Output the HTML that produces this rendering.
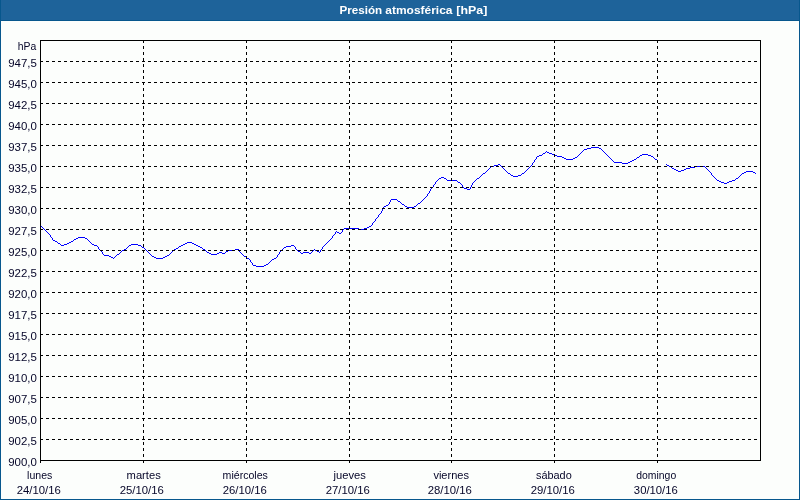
<!DOCTYPE html>
<html><head><meta charset="utf-8"><title>Presión atmosférica [hPa]</title>
<style>
html,body{margin:0;padding:0;background:#fcfefc;}
body{width:800px;height:500px;overflow:hidden;position:relative;font-family:"Liberation Sans",sans-serif;}
svg{position:absolute;left:0;top:0;display:block}
text{font-family:"Liberation Sans",sans-serif;font-size:11px;fill:#050528}
.t{fill:#fff;font-weight:bold}
</style></head><body>
<svg width="800" height="500" viewBox="0 0 800 500">
<rect x="0" y="0" width="800" height="500" fill="#fcfefc"/>
<rect x="0" y="0" width="800" height="20" fill="#1e639a"/>
<rect x="0" y="20" width="800" height="1" fill="#07578d"/>
<rect x="0" y="0" width="1" height="500" fill="#07578d"/>
<rect x="799" y="0" width="1" height="500" fill="#07578d"/>
<rect x="0" y="499" width="800" height="1" fill="#07578d"/>

<text class="t" x="339.46" y="14" textLength="42.73" lengthAdjust="spacingAndGlyphs">Presión</text>
<text class="t" x="385.27" y="14" textLength="67.27" lengthAdjust="spacingAndGlyphs">atmosférica</text>
<text class="t" x="456.32" y="14" textLength="30.95" lengthAdjust="spacingAndGlyphs">[hPa]</text>
<path shape-rendering="crispEdges" fill="#0000ff" stroke="none" d="M591 147h8v1h-8zM587 148h4v1h-4zM599 148h2v1h-2zM584 149h3v1h-3zM601 149h1v1h-1zM583 150h1v1h-1zM602 150h1v1h-1zM546 151h1v1h-1zM582 151h1v1h-1zM603 151h1v1h-1zM545 152h1v1h-1zM547 152h2v1h-2zM581 152h1v1h-1zM604 152h1v1h-1zM543 153h2v1h-2zM549 153h3v1h-3zM580 153h1v1h-1zM605 153h1v1h-1zM542 154h1v1h-1zM552 154h3v1h-3zM579 154h1v1h-1zM606 154h1v1h-1zM642 154h6v1h-6zM539 155h3v1h-3zM555 155h2v1h-2zM578 155h1v1h-1zM607 155h1v1h-1zM640 155h2v1h-2zM648 155h3v1h-3zM537 156h2v1h-2zM557 156h5v1h-5zM577 156h1v1h-1zM608 156h1v1h-1zM639 156h1v1h-1zM651 156h2v1h-2zM536 157h1v1h-1zM562 157h2v1h-2zM575 157h2v1h-2zM609 157h1v1h-1zM637 157h2v1h-2zM653 157h1v1h-1zM536 158h1v1h-1zM564 158h2v1h-2zM573 158h2v1h-2zM610 158h1v1h-1zM636 158h1v1h-1zM654 158h1v1h-1zM535 159h1v1h-1zM566 159h7v1h-7zM611 159h1v1h-1zM634 159h2v1h-2zM655 159h2v1h-2zM534 160h1v1h-1zM612 160h1v1h-1zM632 160h2v1h-2zM657 160h1v1h-1zM534 161h1v1h-1zM613 161h1v1h-1zM630 161h2v1h-2zM533 162h1v1h-1zM614 162h8v1h-8zM628 162h2v1h-2zM532 163h1v1h-1zM622 163h6v1h-6zM498 164h2v1h-2zM532 164h1v1h-1zM494 165h4v1h-4zM500 165h1v1h-1zM531 165h1v1h-1zM491 166h3v1h-3zM501 166h1v1h-1zM530 166h1v1h-1zM490 167h1v1h-1zM502 167h1v1h-1zM529 167h1v1h-1zM489 168h1v1h-1zM503 168h1v1h-1zM528 168h1v1h-1zM488 169h1v1h-1zM504 169h1v1h-1zM527 169h1v1h-1zM487 170h1v1h-1zM505 170h1v1h-1zM526 170h1v1h-1zM486 171h1v1h-1zM506 171h1v1h-1zM525 171h1v1h-1zM485 172h1v1h-1zM507 172h1v1h-1zM524 172h1v1h-1zM483 173h2v1h-2zM508 173h2v1h-2zM522 173h2v1h-2zM482 174h1v1h-1zM510 174h1v1h-1zM521 174h1v1h-1zM481 175h1v1h-1zM511 175h2v1h-2zM518 175h3v1h-3zM480 176h1v1h-1zM513 176h5v1h-5zM441 177h3v1h-3zM479 177h1v1h-1zM439 178h2v1h-2zM444 178h2v1h-2zM477 178h2v1h-2zM438 179h1v1h-1zM446 179h1v1h-1zM476 179h1v1h-1zM437 180h1v1h-1zM447 180h10v1h-10zM475 180h1v1h-1zM436 181h1v1h-1zM457 181h1v1h-1zM474 181h1v1h-1zM435 182h1v1h-1zM458 182h2v1h-2zM473 182h1v1h-1zM435 183h1v1h-1zM460 183h1v1h-1zM472 183h1v1h-1zM434 184h1v1h-1zM461 184h1v1h-1zM472 184h1v1h-1zM433 185h1v1h-1zM462 185h1v1h-1zM471 185h1v1h-1zM433 186h1v1h-1zM462 186h1v1h-1zM471 186h1v1h-1zM432 187h1v1h-1zM463 187h1v1h-1zM470 187h1v1h-1zM431 188h1v1h-1zM464 188h3v1h-3zM470 188h1v1h-1zM430 189h1v1h-1zM467 189h3v1h-3zM430 190h1v1h-1zM429 191h1v1h-1zM429 192h1v1h-1zM428 193h1v1h-1zM427 194h1v1h-1zM427 195h1v1h-1zM426 196h1v1h-1zM425 197h1v1h-1zM424 198h1v1h-1zM391 199h6v1h-6zM423 199h1v1h-1zM390 200h1v1h-1zM397 200h1v1h-1zM422 200h1v1h-1zM390 201h1v1h-1zM398 201h2v1h-2zM421 201h1v1h-1zM389 202h1v1h-1zM400 202h1v1h-1zM420 202h1v1h-1zM389 203h1v1h-1zM401 203h1v1h-1zM418 203h2v1h-2zM388 204h1v1h-1zM402 204h2v1h-2zM417 204h1v1h-1zM386 205h2v1h-2zM404 205h1v1h-1zM416 205h1v1h-1zM384 206h2v1h-2zM405 206h2v1h-2zM414 206h2v1h-2zM383 207h1v1h-1zM407 207h7v1h-7zM383 208h1v1h-1zM382 209h1v1h-1zM382 210h1v1h-1zM381 211h1v1h-1zM381 212h1v1h-1zM380 213h1v1h-1zM379 214h1v1h-1zM378 215h1v1h-1zM378 216h1v1h-1zM377 217h1v1h-1zM376 218h1v1h-1zM375 219h1v1h-1zM375 220h1v1h-1zM374 221h1v1h-1zM373 222h1v1h-1zM372 223h1v1h-1zM372 224h1v1h-1zM371 225h1v1h-1zM41 226h1v1h-1zM369 226h2v1h-2zM42 227h1v1h-1zM367 227h2v1h-2zM43 228h1v1h-1zM344 228h15v1h-15zM364 228h3v1h-3zM44 229h1v1h-1zM343 229h1v1h-1zM359 229h5v1h-5zM45 230h1v1h-1zM342 230h1v1h-1zM46 231h1v1h-1zM336 231h1v1h-1zM342 231h1v1h-1zM47 232h1v1h-1zM335 232h1v1h-1zM337 232h2v1h-2zM341 232h1v1h-1zM48 233h1v1h-1zM335 233h1v1h-1zM339 233h2v1h-2zM49 234h1v1h-1zM334 234h1v1h-1zM50 235h1v1h-1zM333 235h1v1h-1zM50 236h1v1h-1zM332 236h1v1h-1zM51 237h1v1h-1zM78 237h7v1h-7zM332 237h1v1h-1zM52 238h1v1h-1zM76 238h2v1h-2zM85 238h2v1h-2zM331 238h1v1h-1zM52 239h1v1h-1zM74 239h2v1h-2zM87 239h1v1h-1zM330 239h1v1h-1zM53 240h2v1h-2zM73 240h1v1h-1zM88 240h1v1h-1zM329 240h1v1h-1zM55 241h2v1h-2zM71 241h2v1h-2zM89 241h1v1h-1zM328 241h1v1h-1zM57 242h1v1h-1zM69 242h2v1h-2zM90 242h1v1h-1zM187 242h5v1h-5zM327 242h1v1h-1zM58 243h2v1h-2zM67 243h2v1h-2zM91 243h1v1h-1zM185 243h2v1h-2zM192 243h2v1h-2zM326 243h1v1h-1zM60 244h1v1h-1zM64 244h3v1h-3zM92 244h2v1h-2zM131 244h7v1h-7zM183 244h2v1h-2zM194 244h2v1h-2zM325 244h1v1h-1zM61 245h3v1h-3zM94 245h3v1h-3zM129 245h2v1h-2zM138 245h3v1h-3zM181 245h2v1h-2zM196 245h2v1h-2zM291 245h3v1h-3zM324 245h1v1h-1zM97 246h1v1h-1zM128 246h1v1h-1zM141 246h1v1h-1zM179 246h2v1h-2zM198 246h2v1h-2zM286 246h5v1h-5zM294 246h1v1h-1zM323 246h1v1h-1zM98 247h1v1h-1zM127 247h1v1h-1zM142 247h2v1h-2zM178 247h1v1h-1zM200 247h2v1h-2zM284 247h2v1h-2zM295 247h1v1h-1zM322 247h1v1h-1zM98 248h1v1h-1zM126 248h1v1h-1zM144 248h1v1h-1zM176 248h2v1h-2zM202 248h1v1h-1zM283 248h1v1h-1zM295 248h1v1h-1zM322 248h1v1h-1zM99 249h1v1h-1zM124 249h2v1h-2zM145 249h1v1h-1zM174 249h2v1h-2zM203 249h2v1h-2zM235 249h4v1h-4zM282 249h1v1h-1zM296 249h1v1h-1zM314 249h1v1h-1zM321 249h1v1h-1zM100 250h1v1h-1zM122 250h2v1h-2zM146 250h1v1h-1zM173 250h1v1h-1zM205 250h1v1h-1zM228 250h7v1h-7zM239 250h1v1h-1zM281 250h1v1h-1zM297 250h1v1h-1zM313 250h1v1h-1zM315 250h2v1h-2zM320 250h1v1h-1zM101 251h1v1h-1zM121 251h1v1h-1zM147 251h1v1h-1zM172 251h1v1h-1zM206 251h1v1h-1zM226 251h2v1h-2zM239 251h1v1h-1zM280 251h1v1h-1zM298 251h2v1h-2zM312 251h1v1h-1zM317 251h2v1h-2zM320 251h1v1h-1zM102 252h1v1h-1zM120 252h1v1h-1zM148 252h1v1h-1zM171 252h1v1h-1zM207 252h2v1h-2zM219 252h3v1h-3zM225 252h1v1h-1zM240 252h1v1h-1zM279 252h1v1h-1zM300 252h1v1h-1zM303 252h6v1h-6zM311 252h1v1h-1zM319 252h1v1h-1zM102 253h1v1h-1zM119 253h1v1h-1zM149 253h1v1h-1zM170 253h1v1h-1zM209 253h2v1h-2zM217 253h2v1h-2zM222 253h3v1h-3zM241 253h1v1h-1zM279 253h1v1h-1zM301 253h2v1h-2zM309 253h2v1h-2zM103 254h1v1h-1zM117 254h2v1h-2zM150 254h1v1h-1zM169 254h1v1h-1zM211 254h6v1h-6zM242 254h1v1h-1zM278 254h1v1h-1zM104 255h5v1h-5zM116 255h1v1h-1zM151 255h1v1h-1zM167 255h2v1h-2zM243 255h1v1h-1zM277 255h1v1h-1zM109 256h2v1h-2zM115 256h1v1h-1zM152 256h2v1h-2zM165 256h2v1h-2zM244 256h2v1h-2zM277 256h1v1h-1zM111 257h2v1h-2zM114 257h1v1h-1zM154 257h2v1h-2zM163 257h2v1h-2zM246 257h1v1h-1zM276 257h1v1h-1zM113 258h1v1h-1zM156 258h7v1h-7zM247 258h2v1h-2zM274 258h2v1h-2zM249 259h1v1h-1zM272 259h2v1h-2zM250 260h1v1h-1zM271 260h1v1h-1zM250 261h1v1h-1zM270 261h1v1h-1zM251 262h1v1h-1zM269 262h1v1h-1zM252 263h1v1h-1zM268 263h1v1h-1zM252 264h1v1h-1zM266 264h2v1h-2zM253 265h3v1h-3zM264 265h2v1h-2zM256 266h8v1h-8zM666 164h1v1h-1zM667 165h2v1h-2zM669 166h2v1h-2zM695 166h10v1h-10zM671 167h1v1h-1zM690 167h5v1h-5zM705 167h1v1h-1zM672 168h2v1h-2zM686 168h4v1h-4zM706 168h1v1h-1zM674 169h2v1h-2zM684 169h2v1h-2zM707 169h1v1h-1zM676 170h2v1h-2zM681 170h3v1h-3zM708 170h1v1h-1zM678 171h3v1h-3zM709 171h1v1h-1zM746 171h7v1h-7zM710 172h1v1h-1zM744 172h2v1h-2zM753 172h2v1h-2zM711 173h1v1h-1zM742 173h2v1h-2zM755 173h1v1h-1zM711 174h1v1h-1zM741 174h1v1h-1zM712 175h1v1h-1zM740 175h1v1h-1zM713 176h1v1h-1zM739 176h1v1h-1zM714 177h1v1h-1zM738 177h1v1h-1zM715 178h1v1h-1zM736 178h2v1h-2zM716 179h1v1h-1zM735 179h1v1h-1zM717 180h2v1h-2zM732 180h3v1h-3zM719 181h2v1h-2zM729 181h3v1h-3zM721 182h3v1h-3zM727 182h2v1h-2zM724 183h3v1h-3z"/>
<g shape-rendering="crispEdges" stroke="#000" stroke-width="1" fill="none">
<line x1="40" y1="61.5" x2="760" y2="61.5" stroke-dasharray="3 3"/>
<line x1="40" y1="82.5" x2="760" y2="82.5" stroke-dasharray="3 3"/>
<line x1="40" y1="103.5" x2="760" y2="103.5" stroke-dasharray="3 3"/>
<line x1="40" y1="124.5" x2="760" y2="124.5" stroke-dasharray="3 3"/>
<line x1="40" y1="145.5" x2="760" y2="145.5" stroke-dasharray="3 3"/>
<line x1="40" y1="166.5" x2="760" y2="166.5" stroke-dasharray="3 3"/>
<line x1="40" y1="187.5" x2="760" y2="187.5" stroke-dasharray="3 3"/>
<line x1="40" y1="208.5" x2="760" y2="208.5" stroke-dasharray="3 3"/>
<line x1="40" y1="229.5" x2="760" y2="229.5" stroke-dasharray="3 3"/>
<line x1="40" y1="250.5" x2="760" y2="250.5" stroke-dasharray="3 3"/>
<line x1="40" y1="271.5" x2="760" y2="271.5" stroke-dasharray="3 3"/>
<line x1="40" y1="292.5" x2="760" y2="292.5" stroke-dasharray="3 3"/>
<line x1="40" y1="313.5" x2="760" y2="313.5" stroke-dasharray="3 3"/>
<line x1="40" y1="334.5" x2="760" y2="334.5" stroke-dasharray="3 3"/>
<line x1="40" y1="355.5" x2="760" y2="355.5" stroke-dasharray="3 3"/>
<line x1="40" y1="376.5" x2="760" y2="376.5" stroke-dasharray="3 3"/>
<line x1="40" y1="397.5" x2="760" y2="397.5" stroke-dasharray="3 3"/>
<line x1="40" y1="418.5" x2="760" y2="418.5" stroke-dasharray="3 3"/>
<line x1="40" y1="439.5" x2="760" y2="439.5" stroke-dasharray="3 3"/>
<line x1="143.5" y1="40" x2="143.5" y2="460" stroke-dasharray="3 3"/>
<line x1="143.5" y1="460" x2="143.5" y2="463"/>
<line x1="246.5" y1="40" x2="246.5" y2="460" stroke-dasharray="3 3"/>
<line x1="246.5" y1="460" x2="246.5" y2="463"/>
<line x1="349.5" y1="40" x2="349.5" y2="460" stroke-dasharray="3 3"/>
<line x1="349.5" y1="460" x2="349.5" y2="463"/>
<line x1="451.5" y1="40" x2="451.5" y2="460" stroke-dasharray="3 3"/>
<line x1="451.5" y1="460" x2="451.5" y2="463"/>
<line x1="554.5" y1="40" x2="554.5" y2="460" stroke-dasharray="3 3"/>
<line x1="554.5" y1="460" x2="554.5" y2="463"/>
<line x1="657.5" y1="40" x2="657.5" y2="460" stroke-dasharray="3 3"/>
<line x1="657.5" y1="460" x2="657.5" y2="463"/>
<rect x="40.5" y="40.5" width="720" height="420"/>
<line x1="40.5" y1="460" x2="40.5" y2="463"/>
</g>
<text x="17.74" y="50" textLength="18.53" lengthAdjust="spacingAndGlyphs">hPa</text>
<text x="8.18" y="67" textLength="28.67" lengthAdjust="spacingAndGlyphs">947,5</text>
<text x="8.18" y="88" textLength="28.67" lengthAdjust="spacingAndGlyphs">945,0</text>
<text x="8.18" y="109" textLength="28.67" lengthAdjust="spacingAndGlyphs">942,5</text>
<text x="8.18" y="130" textLength="28.67" lengthAdjust="spacingAndGlyphs">940,0</text>
<text x="8.18" y="151" textLength="28.67" lengthAdjust="spacingAndGlyphs">937,5</text>
<text x="8.18" y="172" textLength="28.67" lengthAdjust="spacingAndGlyphs">935,0</text>
<text x="8.18" y="193" textLength="28.67" lengthAdjust="spacingAndGlyphs">932,5</text>
<text x="8.18" y="214" textLength="28.67" lengthAdjust="spacingAndGlyphs">930,0</text>
<text x="8.18" y="235" textLength="28.67" lengthAdjust="spacingAndGlyphs">927,5</text>
<text x="8.18" y="256" textLength="28.67" lengthAdjust="spacingAndGlyphs">925,0</text>
<text x="8.18" y="277" textLength="28.67" lengthAdjust="spacingAndGlyphs">922,5</text>
<text x="8.18" y="298" textLength="28.67" lengthAdjust="spacingAndGlyphs">920,0</text>
<text x="8.18" y="319" textLength="28.67" lengthAdjust="spacingAndGlyphs">917,5</text>
<text x="8.18" y="340" textLength="28.67" lengthAdjust="spacingAndGlyphs">915,0</text>
<text x="8.18" y="361" textLength="28.67" lengthAdjust="spacingAndGlyphs">912,5</text>
<text x="8.18" y="382" textLength="28.67" lengthAdjust="spacingAndGlyphs">910,0</text>
<text x="8.18" y="403" textLength="28.67" lengthAdjust="spacingAndGlyphs">907,5</text>
<text x="8.18" y="424" textLength="28.67" lengthAdjust="spacingAndGlyphs">905,0</text>
<text x="8.18" y="445" textLength="28.67" lengthAdjust="spacingAndGlyphs">902,5</text>
<text x="8.18" y="466" textLength="28.67" lengthAdjust="spacingAndGlyphs">900,0</text>
<text x="27.08" y="479" textLength="25.20" lengthAdjust="spacingAndGlyphs">lunes</text>
<text x="16.68" y="494" textLength="44.15" lengthAdjust="spacingAndGlyphs">24/10/16</text>
<text x="126.59" y="479" textLength="34.14" lengthAdjust="spacingAndGlyphs">martes</text>
<text x="119.68" y="494" textLength="44.15" lengthAdjust="spacingAndGlyphs">25/10/16</text>
<text x="222.58" y="479" textLength="45.28" lengthAdjust="spacingAndGlyphs">miércoles</text>
<text x="222.68" y="494" textLength="44.15" lengthAdjust="spacingAndGlyphs">26/10/16</text>
<text x="333.56" y="479" textLength="32.35" lengthAdjust="spacingAndGlyphs">jueves</text>
<text x="325.68" y="494" textLength="44.15" lengthAdjust="spacingAndGlyphs">27/10/16</text>
<text x="433.40" y="479" textLength="35.56" lengthAdjust="spacingAndGlyphs">viernes</text>
<text x="427.68" y="494" textLength="44.15" lengthAdjust="spacingAndGlyphs">28/10/16</text>
<text x="535.95" y="479" textLength="35.78" lengthAdjust="spacingAndGlyphs">sábado</text>
<text x="530.68" y="494" textLength="44.15" lengthAdjust="spacingAndGlyphs">29/10/16</text>
<text x="636.28" y="479" textLength="39.94" lengthAdjust="spacingAndGlyphs">domingo</text>
<text x="633.89" y="494" textLength="43.94" lengthAdjust="spacingAndGlyphs">30/10/16</text>
</svg></body></html>
